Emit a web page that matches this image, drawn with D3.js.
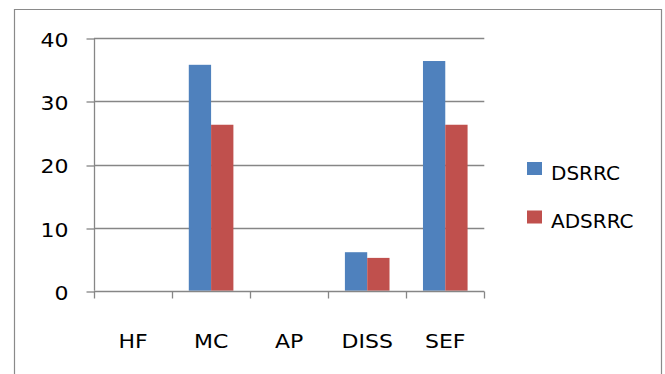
<!DOCTYPE html>
<html><head><meta charset="utf-8">
<script src="https://cdn.jsdelivr.net/npm/d3@7"></script>
<style>body{margin:0;background:#fff}svg{display:block}text{font-family:"DejaVu Sans",sans-serif;fill:#000}</style>
</head><body><svg id="c" width="665" height="374"></svg>
<script>
const categories = ["HF","MC","AP","DISS","SEF"];
const seriesNames = ["DSRRC","ADSRRC"];
const dsrrc = [0, 35.8, 0, 6.1, 36.4];
const adsrrc = [0, 26.3, 0, 5.2, 26.3];
const yTicks = [0,10,20,30,40];
const colors = ["#4F81BD","#C0504D"];

const svg = d3.select("#c");
const grid = "#868686";
const FS = 20, SX = 1.1;
// outer frame
svg.append("path").attr("d","M14.5,374 V9.5 H661.5 V374").attr("fill","none").attr("stroke","#8a8a8a").attr("stroke-width",1.2);

const x0 = d3.scaleBand().domain(categories).range([94,484.3]).paddingInner(0).paddingOuter(0);
const y = d3.scaleLinear().domain([0,40]).range([290.7,38.3]);

// Excel gap width 150%: bar = bw/3.5
const bw = x0.bandwidth(); const barW = bw/3.5;
const xs = d3.scaleOrdinal().domain(seriesNames).range([bw*0.75/3.5, bw*0.75/3.5+barW]);

// gridlines
svg.append("g").selectAll("line").data(yTicks.filter(d=>d>0)).join("line")
  .attr("x1",94).attr("x2",484.3).attr("y1",d=>Math.round(y(d))+0.5).attr("y2",d=>Math.round(y(d))+0.5)
  .attr("stroke",grid).attr("stroke-width",1.3);

// y axis
const ya = svg.append("g").attr("transform","translate(94.5,0)").call(d3.axisLeft(y).tickValues(yTicks).tickSize(8).tickPadding(18));
ya.selectAll("path,line").attr("stroke",grid).attr("stroke-width",1.3);
ya.select(".domain").attr("d",`M0,${y(40)}V${y(0)}`);
ya.selectAll("line").attr("transform",d=>`translate(0,${Math.round(y(d))+0.5-y(d)})`);
ya.selectAll("text").remove();
ya.selectAll("g.tick").append("text").attr("transform",`translate(-26,0) scale(${SX},1)`)
  .attr("text-anchor","end").attr("dy","0.42em").attr("font-size",FS).text(d=>d);

// bars
const data = categories.map((c,i)=>({c, v:[dsrrc[i], adsrrc[i]]}));
const g = svg.append("g");
g.selectAll("g").data(data).join("g").attr("transform",d=>`translate(${x0(d.c)},0)`)
  .selectAll("rect").data(d=>d.v.map((v,j)=>({s:seriesNames[j],v,j}))).join("rect")
  .attr("x",d=>xs(d.s)).attr("width",barW).attr("y",d=>y(d.v)).attr("height",d=>y(0)-y(d.v))
  .attr("fill",d=>colors[d.j]);

// x axis
const xa = svg.append("g").attr("transform",`translate(0,${Math.round(y(0))+0.5})`);
xa.append("line").attr("x1",94).attr("x2",484.3).attr("stroke",grid).attr("stroke-width",1.3);
const edges = categories.map(c=>x0(c)).concat([x0.range()[1]]);
xa.selectAll("line.t").data(edges).join("line").attr("class","t")
  .attr("x1",d=>Math.round(d)+0.5).attr("x2",d=>Math.round(d)+0.5).attr("y1",0).attr("y2",7)
  .attr("stroke",grid).attr("stroke-width",1.3);
xa.selectAll("text").data(categories).join("text")
  .attr("transform",d=>`translate(${x0(d)+bw/2},56.5) scale(${SX},1)`).attr("text-anchor","middle").attr("font-size",FS).text(d=>d);

// legend
const lg = svg.append("g");
const ly = [162, 210.5];
seriesNames.forEach((s,i)=>{
  lg.append("rect").attr("x",527).attr("y",ly[i]).attr("width",15).attr("height",13).attr("fill",colors[i]);
  lg.append("text").attr("x",551).attr("y",ly[i]+17.5).attr("font-size",FS).text(s);
});
</script></body></html>
